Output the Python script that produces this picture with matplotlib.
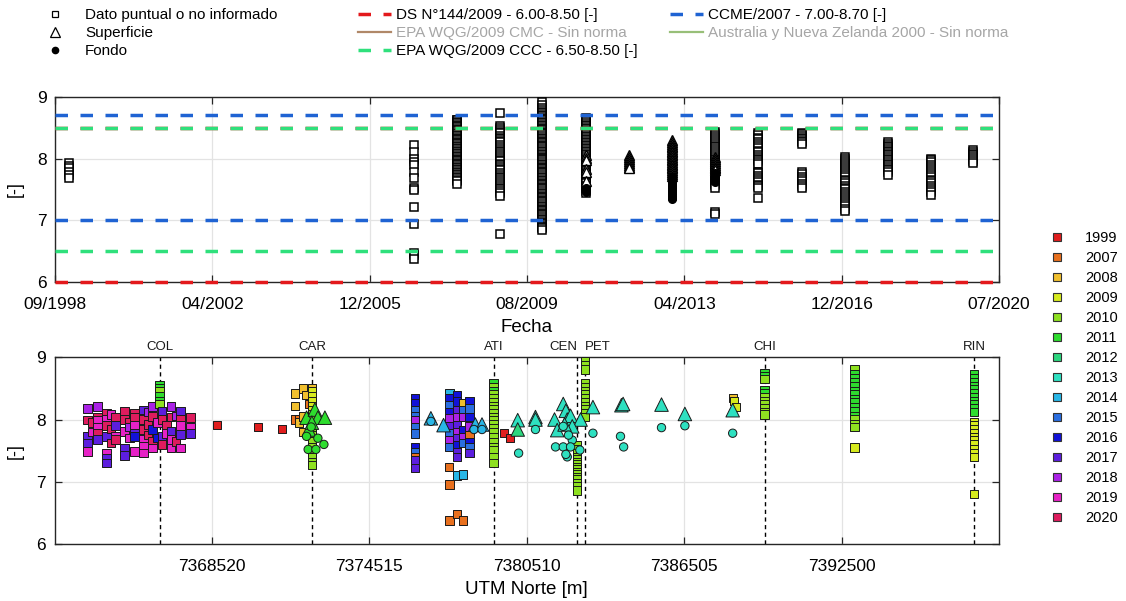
import numpy as np
import matplotlib
matplotlib.use('Agg')
import matplotlib.pyplot as plt
import matplotlib.dates as mdates
from matplotlib.lines import Line2D
import pandas as pd

plt.rcParams['font.family'] = ['Liberation Sans', 'DejaVu Sans']

# ------------------------------------------------------------------ data: top panel (pH vs fecha)
top_xlim = ['1998-09-01', '2020-07-01']
top_xticklabels = ['09/1998', '04/2002', '12/2005', '08/2009', '04/2013', '12/2016', '07/2020']

sq_dates = ['1999-01-01', '2006-12-20', '2007-12-15', '2008-12-15', '2009-12-05', '2010-12-10',
            '2013-12-10', '2014-12-08', '2015-12-08', '2016-12-05', '2017-12-05', '2018-12-01',
            '2019-11-28']
sq_values = [
    [7.93, 7.88, 7.84, 7.79, 7.74, 7.69],
    [8.22, 8.11, 8.00, 7.95, 7.90, 7.79, 7.68, 7.52, 7.49, 7.22, 6.95, 6.48, 6.44, 6.37],
    [8.63, 8.62, 8.59, 8.58, 8.55, 8.52, 8.51, 8.48, 8.46, 8.45, 8.42, 8.40, 8.37, 8.36, 8.34,
     8.31, 8.30, 8.27, 8.25, 8.24, 8.21, 8.19, 8.16, 8.15, 8.13, 8.10, 8.08, 8.07, 8.04, 8.02,
     7.99, 7.98, 7.96, 7.93, 7.91, 7.90, 7.87, 7.85, 7.82, 7.81, 7.79, 7.76, 7.74, 7.73, 7.70,
     7.68, 7.66, 7.64, 7.59],
    [8.73, 8.52, 8.49, 8.46, 8.43, 8.41, 8.37, 8.34, 8.31, 8.28, 8.26, 8.22, 8.19, 8.16, 8.13,
     8.11, 8.07, 8.04, 8.01, 7.98, 7.96, 7.92, 7.89, 7.86, 7.83, 7.81, 7.77, 7.74, 7.71, 7.68,
     7.66, 7.62, 7.59, 7.56, 7.53, 7.51, 7.47, 7.44, 7.40, 6.78],
    [8.92, 8.86, 8.81, 8.78, 8.76, 8.73, 8.71, 8.69, 8.66, 8.64, 8.62, 8.59, 8.57, 8.55, 8.53,
     8.50, 8.48, 8.46, 8.43, 8.41, 8.39, 8.36, 8.34, 8.31, 8.29, 8.27, 8.25, 8.22, 8.20, 8.18,
     8.15, 8.13, 8.11, 8.08, 8.06, 8.03, 8.01, 7.99, 7.97, 7.94, 7.92, 7.90, 7.87, 7.85, 7.83,
     7.80, 7.78, 7.76, 7.73, 7.71, 7.68, 7.66, 7.64, 7.61, 7.59, 7.57, 7.54, 7.52, 7.50, 7.47,
     7.45, 7.43, 7.40, 7.38, 7.36, 7.33, 7.31, 7.29, 7.26, 7.24, 7.22, 7.19, 7.17, 7.15, 7.12,
     7.10, 7.08, 7.05, 7.03, 7.01, 6.98, 6.96, 6.94, 6.91, 6.89, 6.87, 6.84],
    [8.65, 8.62, 8.60, 8.57, 8.55, 8.52, 8.50, 8.47, 8.45, 8.42, 8.40, 8.37, 8.35, 8.32, 8.30,
     8.27, 8.25, 8.22, 8.20, 8.17, 8.15, 8.12, 8.10, 8.07, 8.05, 8.02, 8.00, 7.97, 7.95, 7.92,
     7.90, 7.87, 7.85, 7.82, 7.80, 7.77, 7.75, 7.72, 7.70, 7.67, 7.65, 7.62, 7.60, 7.56, 7.52,
     7.48, 7.45],
    [8.43, 8.40, 8.36, 8.33, 8.30, 8.27, 8.24, 8.21, 8.18, 8.15, 8.12, 8.09, 8.06, 8.03, 8.00,
     7.97, 7.94, 7.91, 7.88, 7.85, 7.82, 7.78, 7.75, 7.72, 7.69, 7.66, 7.63, 7.60, 7.57, 7.53,
     7.14, 7.10],
    [8.41, 8.38, 8.34, 8.31, 8.27, 8.24, 8.20, 8.17, 8.13, 8.10, 8.06, 8.03, 8.00, 7.97, 7.94,
     7.91, 7.79, 7.76, 7.72, 7.69, 7.65, 7.62, 7.58, 7.55, 7.52, 7.36],
    [8.42, 8.39, 8.37, 8.34, 8.31, 8.29, 8.26, 8.23, 7.79, 7.75, 7.71, 7.67, 7.63, 7.59, 7.55,
     7.52],
    [8.02, 7.99, 7.96, 7.93, 7.89, 7.86, 7.83, 7.80, 7.76, 7.73, 7.70, 7.66, 7.63, 7.60, 7.56,
     7.53, 7.50, 7.46, 7.43, 7.39, 7.36, 7.33, 7.29, 7.26, 7.23, 7.19, 7.16],
    [8.26, 8.23, 8.21, 8.18, 8.15, 8.13, 8.10, 8.07, 8.05, 8.02, 7.99, 7.97, 7.94, 7.91, 7.89,
     7.86, 7.83, 7.81, 7.79, 7.74],
    [8.00, 7.97, 7.94, 7.90, 7.87, 7.83, 7.80, 7.77, 7.73, 7.70, 7.66, 7.63, 7.60, 7.56, 7.53,
     7.49, 7.46, 7.41],
    [8.14, 8.11, 8.08, 8.05, 8.02, 7.99, 7.96, 7.93],
]

tri_dates = ['2010-12-10', '2011-12-10', '2012-12-05', '2013-12-10']
tri_values = [
    [8.05, 8.01, 7.97, 7.83, 7.79, 7.64],
    [8.05, 8.02, 7.99, 7.96, 7.93, 7.90, 7.87, 7.85],
    [8.30, 8.27, 8.24, 8.21, 8.19, 8.16, 8.13, 8.11, 8.08, 8.05, 8.03, 8.00, 7.97, 7.95, 7.92,
     7.89, 7.87, 7.84, 7.81, 7.79, 7.75, 7.72],
    [8.02, 7.99, 7.96, 7.93, 7.90, 7.87, 7.84, 7.81],
]

cir_dates = ['2010-12-10', '2012-12-05', '2013-12-10']
cir_values = [
    [7.52, 7.49, 7.46],
    [7.70, 7.67, 7.64, 7.61, 7.58, 7.55, 7.52, 7.49, 7.46, 7.43, 7.40, 7.37, 7.35],
    [7.76, 7.72, 7.68, 7.62],
]

# normas: (nombre, min, max)
std_names = ['DS N°144/2009 - 6.00-8.50 [-]', 'CCME/2007 - 7.00-8.70 [-]',
             'EPA WQG/2009 CCC - 6.50-8.50 [-]']
std_limits = [(6.00, 8.50), (7.00, 8.70), (6.50, 8.50)]
std_colors = ['#e3191c', '#1f63d3', '#2fe07c']
nostd_names = ['EPA WQG/2009 CMC - Sin norma', 'Australia y Nueva Zelanda 2000 - Sin norma']
nostd_colors = ['#b08868', '#98bf78']

# ------------------------------------------------------------------ data: bottom panel (pH vs UTM Norte)
years = [1999, 2007, 2008, 2009, 2010, 2011, 2012, 2013, 2014, 2015, 2016, 2017, 2018, 2019, 2020]
year_colors = ['#e01e1e', '#e8701e', '#f0bf2e', '#d6ea1e', '#8ee020', '#2edc2e', '#2cd67e',
               '#2ee0c0', '#28b6e6', '#2a6ee0', '#1212d8', '#5c1ede', '#aa22e6', '#e622c6',
               '#de1c5e']

utm_xlim = [7362525, 7398495]
utm_ticks = [7368520, 7374515, 7380510, 7386505, 7392500]

st_names = ['COL', 'CAR', 'ATI', 'CEN', 'PET', 'CHI', 'RIN']
st_utm = [7366534, 7372327, 7379250, 7382419, 7382725, 7389575, 7397540]

# squares: one entry per UTM position, values and years
sq_utm = [7363785, 7363975, 7364167, 7364510, 7364680, 7364843, 7365186, 7365380, 7365568,
          7365912, 7366090, 7366267, 7366450, 7366534, 7366626, 7366800, 7366969, 7367150,
          7367324, 7367695,
          7368711, 7370291, 7371208,
          7371678, 7371830, 7371983, 7372100, 7372200, 7372327,
          7376260, 7377530, 7377570, 7377852, 7378081, 7378333, 7379250, 7379631, 7379861,
          7382419, 7382725, 7388353, 7388415, 7388480, 7389575, 7392996, 7397540]
sq_val = [
    [8.18, 7.99, 7.73, 7.62, 7.49], [7.95, 7.80], [8.21, 8.03, 7.99, 7.88, 7.78, 7.68],
    [8.10, 8.00, 7.90, 7.73, 7.46, 7.38, 7.30], [8.08, 7.85, 7.62], [8.04, 7.90, 7.73, 7.68],
    [8.13, 8.00, 7.81, 7.54, 7.42], [7.95, 7.88, 7.70], [8.10, 8.04, 7.90, 7.78, 7.73, 7.49],
    [8.15, 8.00, 7.84, 7.68, 7.57, 7.46], [8.12, 7.92, 7.75], [8.21, 8.05, 7.84, 7.65, 7.54],
    [7.95, 7.70], [8.55, 8.50, 8.45, 8.38, 8.30, 8.25], [8.13, 8.00, 7.73, 7.60], [7.90, 7.78],
    [8.21, 8.04, 7.81, 7.68, 7.54], [8.06, 7.65], [8.13, 8.00, 7.90, 7.76, 7.54],
    [8.03, 7.87, 7.78],
    [7.92], [7.88], [7.85],
    [8.42, 8.22, 8.00], [8.00, 7.95], [8.50, 8.05, 7.80], [8.40], [8.25],
    [8.50, 8.45, 8.38, 8.30, 8.22, 8.15, 8.08, 8.00, 7.92, 7.85, 7.75, 7.65, 7.55, 7.48, 7.40,
     7.32, 7.27],
    [8.34, 8.26, 8.15, 8.06, 7.98, 7.87, 7.78, 7.56, 7.48, 7.40, 7.34, 7.22], [7.24],
    [8.42, 8.34, 8.23, 8.12, 8.02, 7.89, 7.78, 7.67, 7.56, 6.96, 6.38],
    [8.39, 8.29, 8.15, 8.04, 7.91, 7.80, 7.70, 7.59, 7.48, 7.40, 7.10, 6.48],
    [8.26, 8.15, 8.04, 7.83, 7.72, 7.62, 7.12, 6.38],
    [8.29, 8.18, 8.04, 7.89, 7.75, 7.64, 7.56, 7.46],
    [8.58, 8.52, 8.46, 8.40, 8.34, 8.28, 8.22, 8.16, 8.10, 8.04, 7.98, 7.92, 7.86, 7.80, 7.72,
     7.64, 7.56, 7.50, 7.40, 7.30],
    [7.79], [7.70],
    [7.58, 7.52, 7.46, 7.40, 7.36, 7.32, 7.28, 7.24, 7.20, 7.16, 7.12, 7.08, 7.04, 6.98, 6.92,
     6.86],
    [8.93, 8.87, 8.80, 8.58, 8.52, 8.46, 8.40, 8.34, 8.28, 8.22, 8.16, 8.10, 8.04],
    [8.34], [8.29], [8.20],
    [8.75, 8.70, 8.65, 8.47, 8.42, 8.36, 8.30, 8.24, 8.18, 8.12, 8.08],
    [8.80, 8.73, 8.66, 8.60, 8.53, 8.46, 8.40, 8.33, 8.27, 8.20, 8.13, 8.06, 8.00, 7.93, 7.88,
     7.55],
    [8.72, 8.66, 8.60, 8.54, 8.48, 8.42, 8.36, 8.30, 8.24, 8.18, 8.12, 7.95, 7.90, 7.84, 7.78,
     7.72, 7.66, 7.60, 7.52, 7.46, 7.40, 6.80],
]
sq_year = [
    [2018, 2020, 2017, 2017, 2019], [2020, 2019], [2018, 2020, 2019, 2019, 2020, 2017],
    [2020, 2019, 2020, 2017, 2019, 2017, 2017], [2019, 2020, 2020], [2020, 2017, 2019, 2020],
    [2020, 2020, 2019, 2017, 2017], [2020, 2018, 2019], [2020, 2020, 2019, 2017, 2016, 2019],
    [2017, 2020, 2020, 2019, 2019, 2019], [2018, 2020, 2020], [2018, 2020, 2016, 2020, 2019],
    [2019, 2016], [2011, 2011, 2010, 2011, 2011, 2010], [2017, 2020, 2017, 2020], [2020, 2019],
    [2018, 2020, 2017, 2019, 2019], [2018, 2020], [2017, 2020, 2019, 2017, 2019],
    [2020, 2019, 2017],
    [1999], [1999], [1999],
    [2008, 2008, 2007], [2007, 2008], [2008, 2008, 2008], [2008], [2007],
    [2008, 2009, 2009, 2009, 2009, 2009, 2010, 2010, 2010, 2010, 2010, 2010, 2010, 2010, 2010,
     2010, 2010],
    [2016, 2016, 2015, 2015, 2018, 2015, 2015, 2016, 2015, 2007, 2017, 2017], [2007],
    [2014, 2016, 2015, 2016, 2018, 2017, 2015, 2018, 2015, 2007, 2007],
    [2016, 2016, 2017, 2018, 2017, 2018, 2017, 2016, 2017, 2017, 2014, 2007],
    [2008, 2015, 2018, 2016, 2018, 2015, 2014, 2007],
    [2016, 2015, 2016, 2018, 2007, 2016, 2015, 2017],
    [2011, 2010, 2011, 2010, 2010, 2010, 2010, 2010, 2010, 2010, 2010, 2010, 2010, 2010, 2010,
     2010, 2010, 2010, 2010, 2010],
    [1999], [1999],
    [2010] * 16,
    [2010] * 13,
    [2008], [2009], [2009],
    [2011, 2011, 2010, 2011, 2011, 2010, 2010, 2010, 2010, 2010, 2010],
    [2010, 2011, 2011, 2011, 2011, 2011, 2011, 2011, 2011, 2011, 2011, 2011, 2010, 2010, 2010,
     2009],
    [2011] * 11 + [2009] * 11,
]

tri_utm = [7372124, 7372441, 7372556, 7372823, 7372212, 7372327,
           7376859, 7377341, 7378551, 7378806,
           7380166, 7380166, 7380842, 7380842,
           7381567, 7381900, 7381999, 7382052, 7381670, 7382178, 7382560, 7382243, 7381950,
           7383030, 7384115, 7384180, 7385642, 7386532, 7388353]
tri_val = [8.03, 8.16, 8.03, 8.03, 7.84, 7.95,
           8.02, 7.91, 7.92, 7.92,
           7.99, 7.84, 8.04, 8.00,
           8.00, 8.25, 8.14, 8.00, 7.83, 8.06, 8.00, 7.89, 7.92,
           8.20, 8.23, 8.25, 8.24, 8.09, 8.15]
tri_year = [2011] * 6 + [2014] * 4 + [2013, 2012, 2013, 2013] + [2013] * 9 + [2013] * 6

cir_utm = [7372124, 7372556, 7372785, 7372185, 7372479, 7372300,
           7376859, 7378500, 7378806,
           7380200, 7380842,
           7381900, 7381606, 7381900, 7382052, 7382243, 7382178, 7382534, 7382000, 7382100,
           7383030, 7384080, 7384200, 7385642, 7386532, 7388353]
cir_val = [7.73, 7.70, 7.60, 7.52, 7.52, 7.88,
           7.97, 7.84, 7.84,
           7.46, 7.84,
           7.89, 7.56, 7.56, 7.40, 7.67, 7.56, 7.51, 7.44, 7.75,
           7.78, 7.73, 7.56, 7.87, 7.90, 7.78]
cir_year = [2011] * 6 + [2014] * 3 + [2013] * 2 + [2013] * 9 + [2013] * 6

# ------------------------------------------------------------------ figure
fig = plt.figure(figsize=(11.26, 6.01), dpi=100)
W, H = 1126.0, 601.0
ax1 = fig.add_axes([55 / W, 1 - 282.3 / H, 944 / W, 185.6 / H])
ax2 = fig.add_axes([54.5 / W, 1 - 544 / H, 944.5 / W, 186.7 / H])

edge = '#262626'
DASH = (3.6, 3.6)
for ax in (ax1, ax2):
    ax.set_ylim(6, 9)
    ax.set_yticks([6, 7, 8, 9])
    ax.grid(True, color='#e3e3e3', lw=0.9, zorder=0)
    ax.set_axisbelow(True)
    ax.tick_params(direction='in', length=5, width=0.9, color=edge, top=True, right=True,
                   labelsize=12.5)
    ax.tick_params(axis='x', pad=10.5)
    ax.tick_params(axis='y', pad=6)
    for sp in ax.spines.values():
        sp.set_color(edge)
        sp.set_linewidth(1.0)
    ax.set_ylabel('[-]', fontsize=13)
    ax.yaxis.set_label_coords(-0.033, 0.5)

# top panel
x0, x1 = [mdates.date2num(pd.Timestamp(d)) for d in top_xlim]
ax1.set_xlim(x0, x1)
ax1.set_xticks(np.linspace(x0, x1, len(top_xticklabels)))
ax1.set_xticklabels(top_xticklabels)

for d, vals in zip(sq_dates, sq_values):
    ax1.plot([pd.Timestamp(d)] * len(vals), vals, ls='none', marker='s', ms=5.2, mfc='white',
             mec='black', mew=1.1, zorder=3)
for d, vals in zip(tri_dates, tri_values):
    ax1.plot([pd.Timestamp(d)] * len(vals), vals, ls='none', marker='^', ms=6.5, mfc='white',
             mec='black', mew=1.0, zorder=3)
for d, vals in zip(cir_dates, cir_values):
    ax1.plot([pd.Timestamp(d)] * len(vals), vals, ls='none', marker='o', ms=5.5, mfc='black',
             mec='black', zorder=3)

for (lo, hi), c in zip(std_limits, std_colors):
    for v in (lo, hi):
        ax1.axhline(v, color=c, lw=2.5, dashes=DASH, zorder=4, clip_on=False)

ax1.set_xlabel('Fecha', fontsize=13.5)
ax1.xaxis.set_label_coords(0.5, -0.20)

# bottom panel
ax2.set_xlim(*utm_xlim)
ax2.set_xticks(utm_ticks)
ax2.set_xticklabels([str(t) for t in utm_ticks])
ax2.set_xlabel('UTM Norte [m]', fontsize=13.5)
ax2.xaxis.set_label_coords(0.5, -0.20)

ycol = dict(zip(years, year_colors))
st_ha = ['center', 'center', 'center', 'right', 'left', 'center', 'center']
for name, u, ha in zip(st_names, st_utm, st_ha):
    ax2.axvline(u, color='black', lw=1.0, ls=(0, (3, 2.5)), zorder=1.5)
    ax2.annotate(name, xy=(u, 1.0), xycoords=ax2.get_xaxis_transform(), xytext=(0, 3),
                 textcoords='offset points', ha=ha, va='bottom', fontsize=9.5, color='#1a1a1a')

for u, vals, yrs in zip(sq_utm, sq_val, sq_year):
    cols = [ycol[y] for y in yrs]
    ax2.scatter([u] * len(vals), vals, marker='s', s=38, c=cols, edgecolors='#1a1a1a',
                linewidths=0.7, zorder=3)
ax2.scatter(tri_utm, tri_val, marker='^', s=95, c=[ycol[y] for y in tri_year],
            edgecolors='#1a1a1a', linewidths=0.7, zorder=3)
ax2.scatter(cir_utm, cir_val, marker='o', s=36, c=[ycol[y] for y in cir_year],
            edgecolors='#1a1a1a', linewidths=0.7, zorder=3)

# ------------------------------------------------------------------ legends
leg_kw = dict(frameon=False, borderpad=0, borderaxespad=0, fontsize=11,
              bbox_transform=fig.transFigure, loc='upper left', labelspacing=0.27)

h1 = [Line2D([], [], ls='none', marker='s', ms=5, mfc='white', mec='black', mew=0.9),
      Line2D([], [], ls='none', marker='^', ms=7, mfc='white', mec='black', mew=0.9),
      Line2D([], [], ls='none', marker='o', ms=4.5, mfc='black', mec='black')]
lg1 = fig.legend(h1, ['Dato puntual o no informado', 'Superficie', 'Fondo'],
                 bbox_to_anchor=(47.5 / W, 1 - 8 / H), handlelength=1.0, handletextpad=1.46,
                 **leg_kw)

h2 = [Line2D([], [], color=std_colors[0], lw=2.5, dashes=DASH),
      Line2D([], [], color=nostd_colors[0], lw=1.6),
      Line2D([], [], color=std_colors[2], lw=2.5, dashes=DASH)]
lg2 = fig.legend(h2, [std_names[0], nostd_names[0], std_names[2]],
                 bbox_to_anchor=(358 / W, 1 - 8 / H), handlelength=2.15, handletextpad=0.33,
                 **leg_kw)
lg2.get_texts()[1].set_color('#a6a6a6')

h3 = [Line2D([], [], color=std_colors[1], lw=2.5, dashes=DASH),
      Line2D([], [], color=nostd_colors[1], lw=1.6)]
lg3 = fig.legend(h3, [std_names[1], nostd_names[1]],
                 bbox_to_anchor=(670 / W, 1 - 8 / H), handlelength=2.15, handletextpad=0.33,
                 **leg_kw)
lg3.get_texts()[1].set_color('#a6a6a6')

hy = [Line2D([], [], ls='none', marker='s', ms=5.5, mfc=c, mec='#333333', mew=0.8)
      for c in year_colors]
fig.legend(hy, [str(y) for y in years], frameon=False, borderpad=0, borderaxespad=0,
           fontsize=10.5, bbox_transform=fig.transFigure, loc='upper left',
           bbox_to_anchor=(1050 / W, 1 - 231 / H), handlelength=1.0, handletextpad=1.4,
           labelspacing=0.41)

fig.savefig('out.png', dpi=100)
